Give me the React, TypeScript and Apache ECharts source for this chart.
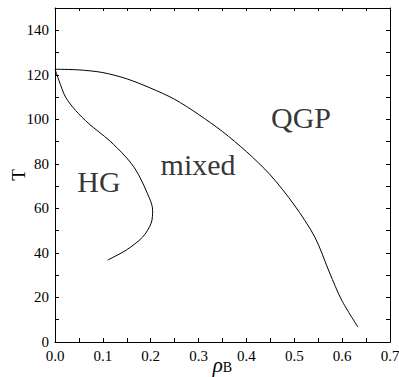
import React, { useEffect, useRef } from "react";
import * as echarts from "echarts";

const qgpBoundary: [number, number][] = [
  [0, 122.5], [0.05, 122.2], [0.1, 121], [0.15, 118.2], [0.2, 114], [0.25, 109],
  [0.3, 102.2], [0.35, 94.5], [0.4, 85.5], [0.45, 75], [0.5, 61.5], [0.543, 47.1],
  [0.574, 31], [0.599, 18.8], [0.633, 6.7],
];

const hgBoundary: [number, number][] = [
  [0, 122.5], [0.008, 117.6], [0.022, 110], [0.043, 104], [0.071, 98], [0.113, 90.6],
  [0.148, 83.1], [0.169, 77.2], [0.19, 68.2], [0.204, 59.2], [0.201, 53.4], [0.183, 47.1],
  [0.149, 41.3], [0.11, 36.8],
];

const regionLabels: { name: string; value: [number, number] }[] = [
  { name: "HG", value: [0.092, 72] },
  { name: "mixed", value: [0.299, 79.6] },
  { name: "QGP", value: [0.514, 101] },
];

const FONT = "'Liberation Serif', 'Times New Roman', 'DejaVu Serif', serif";

export default function App() {
  const ref = useRef<HTMLDivElement>(null);
  useEffect(() => {
    if (!ref.current) return;
    const chart = echarts.init(ref.current, undefined, { renderer: "svg" });
    const axisLine = { show: true, onZero: false, lineStyle: { color: "#000", width: 1 } };
    const tick = { show: true, inside: true, length: 4, lineStyle: { color: "#000", width: 1 } };
    chart.setOption({
      animation: false,
      backgroundColor: "#fff",
      grid: { left: 55, right: 9, top: 8, bottom: 35, containLabel: false, outerBoundsMode: "none" },
      xAxis: [
        {
          type: "value", min: 0, max: 0.7, interval: 0.05, position: "bottom",
          axisLine, axisTick: tick, splitLine: { show: false },
          axisLabel: {
            color: "#000", fontFamily: FONT, fontSize: 15, margin: 6,
            formatter: (v: number) => (Math.round(v * 100) % 10 === 0 ? v.toFixed(1) : ""),
          },
          name: "{r|ρ}{s|B}", nameLocation: "middle", nameGap: 12, nameMoveOverlap: false,
          nameTextStyle: {
            rich: {
              r: { fontFamily: FONT, fontSize: 21, fontStyle: "italic", color: "#000" },
              s: { fontFamily: FONT, fontSize: 14, color: "#000", padding: [6, 0, 0, 0] },
            },
          },
        },
        {
          type: "value", min: 0, max: 0.7, interval: 0.05, position: "top",
          axisLine, axisTick: { ...tick, length: 3 }, axisLabel: { show: false }, splitLine: { show: false },
        },
      ],
      yAxis: [
        {
          type: "value", min: 0, max: 150, interval: 10, position: "left",
          axisLine, axisTick: tick, splitLine: { show: false },
          axisLabel: {
            color: "#000", fontFamily: FONT, fontSize: 15, margin: 6,
            formatter: (v: number) => (v % 20 === 0 ? String(v) : ""),
          },
          name: "T", nameLocation: "middle", nameGap: 27, nameMoveOverlap: false,
          nameTextStyle: { fontFamily: FONT, fontSize: 19, color: "#000" },
        },
        {
          type: "value", min: 0, max: 150, interval: 10, position: "right",
          axisLine, axisTick: tick, axisLabel: { show: false }, splitLine: { show: false },
        },
      ],
      series: [
        {
          type: "line", data: qgpBoundary, showSymbol: false, symbol: "none",
          lineStyle: { color: "#000", width: 1 }, smooth: 0.3,
        },
        {
          type: "line", data: hgBoundary, showSymbol: false, symbol: "none",
          lineStyle: { color: "#000", width: 1 }, smooth: 0.3,
        },
        {
          type: "scatter", data: regionLabels, symbolSize: 0,
          label: {
            show: true, position: "inside", formatter: (p: any) => p.name,
            fontFamily: FONT, fontSize: 30, color: "#000",
          },
        },
      ],
    });
    return () => chart.dispose();
  }, []);
  return <div ref={ref} style={{ width: 399, height: 377, position: "absolute", left: 0, top: 0 }} />;
}
